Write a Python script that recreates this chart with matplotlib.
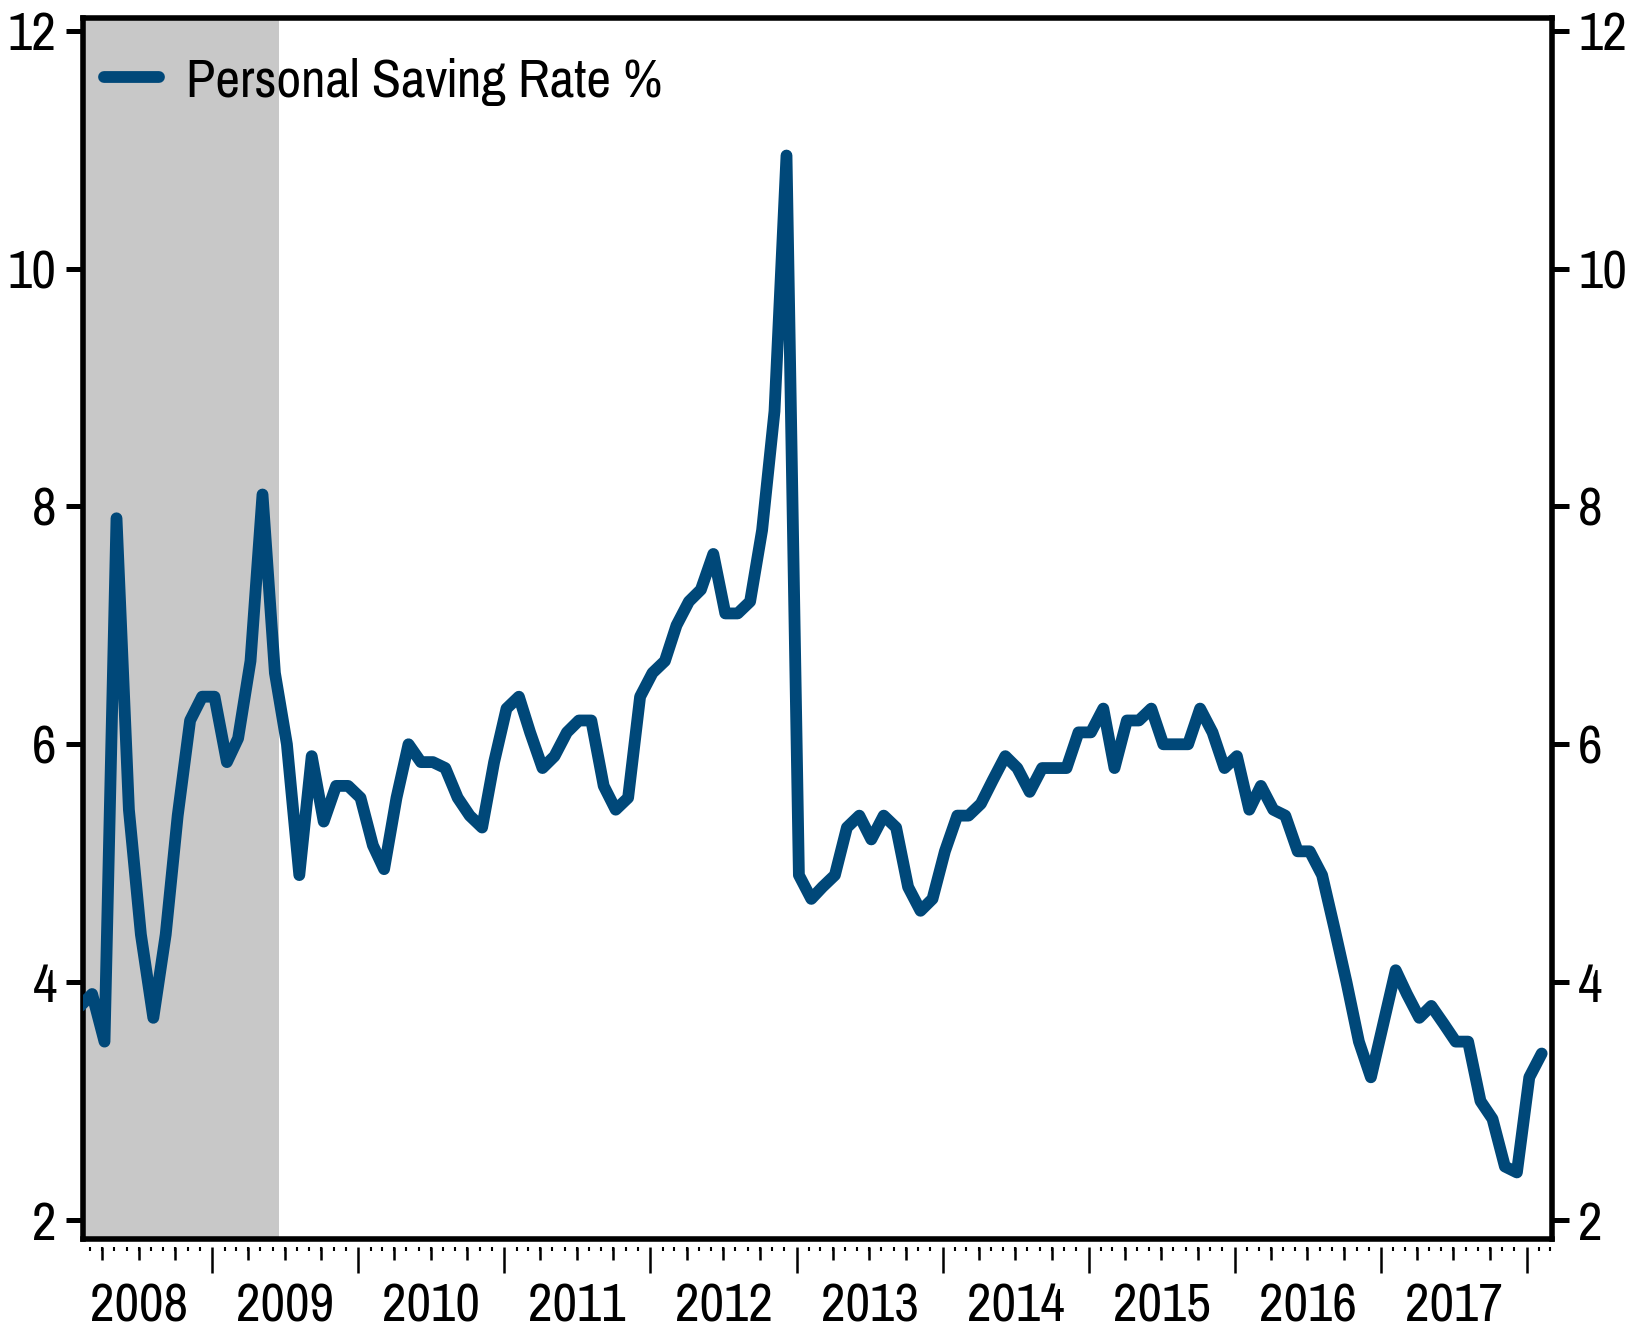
import matplotlib
matplotlib.use('Agg')
import matplotlib.pyplot as plt
import matplotlib.dates as mdates
import matplotlib.ticker as mticker
import pandas as pd

plt.rcParams['font.family'] = ['Pragati Narrow', 'Archivo Narrow', 'Liberation Sans', 'DejaVu Sans']

# ---- data -------------------------------------------------------------
months = pd.date_range('2008-02-01', '2018-02-01', freq='MS') + pd.Timedelta(days=6)
saving_rate = [
    3.8, 3.9, 3.5, 7.9, 5.45, 4.4, 3.7, 4.4, 5.4, 6.2, 6.4,            # 2008 Feb-Dec
    6.4, 5.85, 6.05, 6.7, 8.1, 6.6, 6.0, 4.9, 5.9, 5.35, 5.65, 5.65,  # 2009
    5.55, 5.15, 4.95, 5.55, 6.0, 5.85, 5.85, 5.8, 5.55, 5.4, 5.3, 5.85,  # 2010
    6.3, 6.4, 6.1, 5.8, 5.9, 6.1, 6.2, 6.2, 5.65, 5.45, 5.55, 6.4,    # 2011
    6.6, 6.7, 7.0, 7.2, 7.3, 7.6, 7.1, 7.1, 7.2, 7.8, 8.8, 10.95,     # 2012
    4.9, 4.7, 4.8, 4.9, 5.3, 5.4, 5.2, 5.4, 5.3, 4.8, 4.6, 4.7,       # 2013
    5.1, 5.4, 5.4, 5.5, 5.7, 5.9, 5.8, 5.6, 5.8, 5.8, 5.8, 6.1,       # 2014
    6.1, 6.3, 5.8, 6.2, 6.2, 6.3, 6.0, 6.0, 6.0, 6.3, 6.1, 5.8,       # 2015
    5.9, 5.45, 5.65, 5.45, 5.4, 5.1, 5.1, 4.9, 4.45, 4.0, 3.5, 3.2,   # 2016
    3.65, 4.1, 3.9, 3.7, 3.8, 3.65, 3.5, 3.5, 3.0, 2.85, 2.45, 2.4,   # 2017
    3.2, 3.4,                                                          # 2018 Jan-Feb
]
series_label = 'Personal Saving Rate %'
recession_start = '2007-12-01'
recession_end = '2009-06-17'
year_labels = ['2008', '2009', '2010', '2011', '2012', '2013', '2014', '2015', '2016', '2017']
y_ticks = [2, 4, 6, 8, 10, 12]

# ---- figure -----------------------------------------------------------
fig = plt.figure(figsize=(16.27, 13.29), dpi=100)
ax = fig.add_axes([0.05071, 0.06750, 0.90350, 0.91911])

ax.axvspan(pd.Timestamp(recession_start), pd.Timestamp(recession_end),
           color='#C8C8C8', lw=0, zorder=0)
ax.plot(months, saving_rate, color='#004879', lw=8.5,
        solid_joinstyle='round', solid_capstyle='round', label=series_label, zorder=3)

ax.set_xlim(pd.Timestamp('2008-02-12'), pd.Timestamp('2018-03-06'))
ax.set_ylim(1.838, 12.108)

for s in ax.spines.values():
    s.set_linewidth(4)
    s.set_color('black')

ax.set_yticks(y_ticks)
ax.yaxis.set_major_formatter(mticker.FormatStrFormatter('%d'))
ax.tick_params(axis='y', which='major', length=12, width=3.6, direction='out',
               left=True, right=True, labelleft=True, labelright=True,
               labelsize=42, pad=6.5)
ax.tick_params(axis='x', which='both', bottom=False, labelbottom=False)

off = -0.00606
# years (major) and months (minor)
sec1 = ax.secondary_xaxis(off)
sec1.spines['bottom'].set_visible(False)
sec1.xaxis.set_major_locator(mdates.YearLocator())
sec1.xaxis.set_minor_locator(mdates.MonthLocator())
sec1.xaxis.set_major_formatter(mticker.NullFormatter())
sec1.tick_params(which='major', length=18.7, width=1.8, direction='out')
sec1.tick_params(which='minor', length=3.2, width=1.5, direction='out')

# quarters
sec2 = ax.secondary_xaxis(off)
sec2.spines['bottom'].set_visible(False)
sec2.xaxis.set_major_locator(mdates.MonthLocator(bymonth=[4, 7, 10]))
sec2.xaxis.set_minor_locator(mticker.NullLocator())
sec2.xaxis.set_major_formatter(mticker.NullFormatter())
sec2.tick_params(which='major', length=9.7, width=1.8, direction='out')

# year labels centred in each year
sec3 = ax.secondary_xaxis(off)
sec3.spines['bottom'].set_visible(False)
label_pos = [mdates.date2num(pd.Timestamp(f'{y}-07-03')) for y in year_labels]
sec3.set_xticks(label_pos)
sec3.set_xticklabels(year_labels)
sec3.xaxis.set_minor_locator(mticker.NullLocator())
sec3.tick_params(which='major', length=0, labelsize=42, pad=26)

leg = ax.legend(loc='center left', bbox_to_anchor=(0.0146, 0.9480), frameon=False,
                fontsize=42, handlelength=0.95, handletextpad=0.45,
                borderpad=0, borderaxespad=0)

fig.savefig('out.png', dpi=100)
